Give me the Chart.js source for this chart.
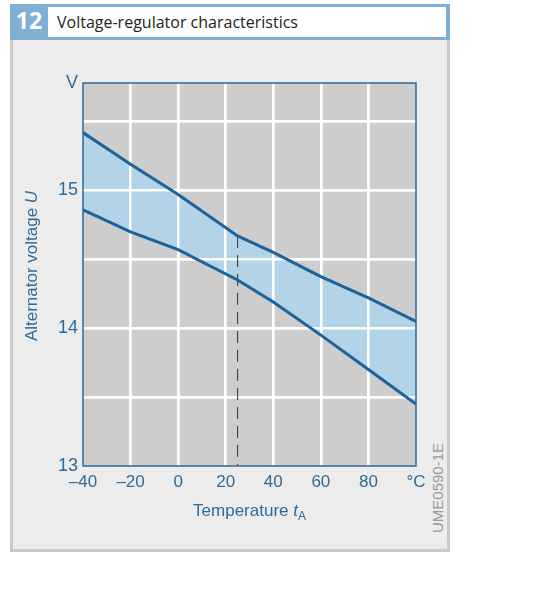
<!DOCTYPE html>
<html>
<head>
<meta charset="utf-8">
<script src="https://cdn.jsdelivr.net/npm/chart.js@4/dist/chart.umd.min.js"></script>
<style>
  body { margin: 0; width: 545px; height: 600px; background: #fff; position: relative; overflow: hidden; }
  #head { position: absolute; left: 10px; top: 4px; width: 440px; height: 36px; background: #7fb0d4; }
  #num { position: absolute; left: 0; top: 0; width: 38px; height: 36px; line-height: 36px; text-align: center;
         color: #fff; font: bold 23px "Open Sans", sans-serif; }
  #ttl { position: absolute; left: 38px; top: 3px; width: 398px; height: 30px; background: #fff;
         font: 16px "Open Sans", sans-serif; color: #222; line-height: 30px; padding-left: 9px; box-sizing: border-box; }
  #panel { position: absolute; left: 10px; top: 40px; width: 440px; height: 512px; background: #ececec;
           border: 3px solid #c9c9c9; border-top: none; box-sizing: border-box; }
  #code { position: absolute; left: 437px; top: 488px; transform: translate(-50%, -50%) rotate(-90deg);
          font: 15px "Liberation Sans", Arimo, Arial, sans-serif; color: #9a9a9a; white-space: nowrap; }
  canvas { position: absolute; left: 0; top: 0; }
</style>
</head>
<body>
<div id="head"><div id="num">12</div><div id="ttl">Voltage-regulator characteristics</div></div>
<div id="panel"></div>
<div id="code">UME0590-1E</div>
<canvas id="myChart" width="545" height="600"></canvas>
<script>
// temperature t_A in °C, voltage U in V
const temps = [-40, -20, 0, 25, 40, 60, 80, 100];
const upperVolts = [15.42, 15.19, 14.97, 14.67, 14.55, 14.375, 14.22, 14.05];
const lowerVolts = [14.86, 14.70, 14.57, 14.35, 14.19, 13.95, 13.70, 13.45];
const refTemp = 25;
const xTickLabels = { '-40': '–40', '-20': '–20', '0': '0', '20': '20', '40': '40', '60': '60', '80': '80', '100': '°C' };
const yTickLabels = { '13': '13', '14': '14', '15': '15' };
const yMax = 15.78;

const blue = '#2b6c9c';
const fam = '"Liberation Sans", Arimo, Arial, sans-serif';
const font = { family: fam, size: 17 };

function toPoints(xs, ys) {
  return xs.map((x, i) => ({ x: x, y: ys[i] }));
}

let plotBox = {
  id: 'plotBox',
  beforeDraw(chart) {
    let a = chart.chartArea, c = chart.ctx;
    c.save();
    c.fillStyle = '#cdcdcd';
    c.fillRect(a.left, a.top, a.right - a.left, a.bottom - a.top);
    c.restore();
  },
  beforeDatasetsDraw(chart) {
    // grid goes over the band fill but under the lines
    chart.scales.x.drawGrid(chart.chartArea);
    chart.scales.y.drawGrid(chart.chartArea);
  },
  afterDraw(chart) {
    let a = chart.chartArea, c = chart.ctx;
    c.save();
    c.strokeStyle = '#2a6a9a';
    c.lineWidth = 1.5;
    c.strokeRect(a.left, a.top, a.right - a.left, a.bottom - a.top);

    // axis titles
    c.fillStyle = blue;
    c.textBaseline = 'alphabetic';
    let cx = (a.left + a.right) / 2;
    let base = 516;
    c.font = '17px ' + fam;
    let w1 = c.measureText('Temperature ').width;
    c.font = 'italic 17px ' + fam;
    let w2 = c.measureText('t').width;
    c.font = '12px ' + fam;
    let w3 = c.measureText('A').width;
    let x0 = cx - (w1 + w2 + w3) / 2;
    c.font = '17px ' + fam;
    c.fillText('Temperature ', x0, base);
    c.font = 'italic 17px ' + fam;
    c.fillText('t', x0 + w1, base);
    c.font = '12px ' + fam;
    c.fillText('A', x0 + w1 + w2, base + 4);

    c.translate(37, 266);
    c.rotate(-Math.PI / 2);
    c.font = '17px ' + fam;
    let v1 = c.measureText('Alternator voltage ').width;
    c.font = 'italic 17px ' + fam;
    let v2 = c.measureText('U').width;
    let y0 = -(v1 + v2) / 2;
    c.font = '17px ' + fam;
    c.fillText('Alternator voltage ', y0, 0);
    c.font = 'italic 17px ' + fam;
    c.fillText('U', y0 + v1, 0);
    c.restore();
  }
};

function edgeGrid(min, max) {
  return ctx => {
    let v = ctx.tick ? ctx.tick.value : null;
    return (v <= min + 0.001 || v >= max - 0.001) ? 'rgba(0,0,0,0)' : '#ffffff';
  };
}

let ctx = document.getElementById('myChart').getContext('2d');
let myChart = new Chart(ctx, {
  type: 'line',
  data: {
    datasets: [{
      label: 'upper',
      data: toPoints(temps, upperVolts),
      borderColor: '#1d6298',
      borderWidth: 3,
      pointRadius: 0,
      fill: false,
      tension: 0
    }, {
      label: 'lower',
      data: toPoints(temps, lowerVolts),
      borderColor: '#1d6298',
      borderWidth: 3,
      pointRadius: 0,
      fill: '-1',
      backgroundColor: '#b3d3e8',
      tension: 0
    }, {
      label: 'ref',
      data: [{ x: refTemp, y: upperVolts[temps.indexOf(refTemp)] }, { x: refTemp, y: 13 }],
      borderColor: '#333333',
      borderWidth: 1,
      borderDash: [12, 7],
      pointRadius: 0,
      fill: false
    }]
  },
  options: {
    responsive: false,
    animation: false,
    events: [],
    layout: { padding: { left: 0, top: 83, right: 129, bottom: 94 } },
    plugins: {
      legend: { display: false },
      tooltip: { enabled: false },
      filler: { drawTime: 'beforeDatasetsDraw' }
    },
    scales: {
      x: {
        type: 'linear',
        min: -40,
        max: 100,
        afterFit: s => { s.height = 40; },
        border: { display: false },
        grid: { color: edgeGrid(-40, 100), lineWidth: 2.5, drawTicks: false },
        ticks: {
          stepSize: 20,
          padding: 6,
          color: blue,
          font: font,
          maxRotation: 0,
          autoSkip: false,
          callback: v => xTickLabels[String(v)] || ''
        }
      },
      y: {
        min: 13,
        max: yMax,
        afterFit: s => { s.width = 83; },
        border: { display: false },
        grid: { color: edgeGrid(13, yMax), lineWidth: 2.5, drawTicks: false },
        ticks: {
          stepSize: 0.5,
          padding: 5,
          color: blue,
          font: { family: fam, size: 18 },
          autoSkip: false,
          callback: v => (v > 15.6 ? 'V' : (yTickLabels[String(v)] || ''))
        }
      }
    }
  },
  plugins: [plotBox]
});
</script>
</body>
</html>
